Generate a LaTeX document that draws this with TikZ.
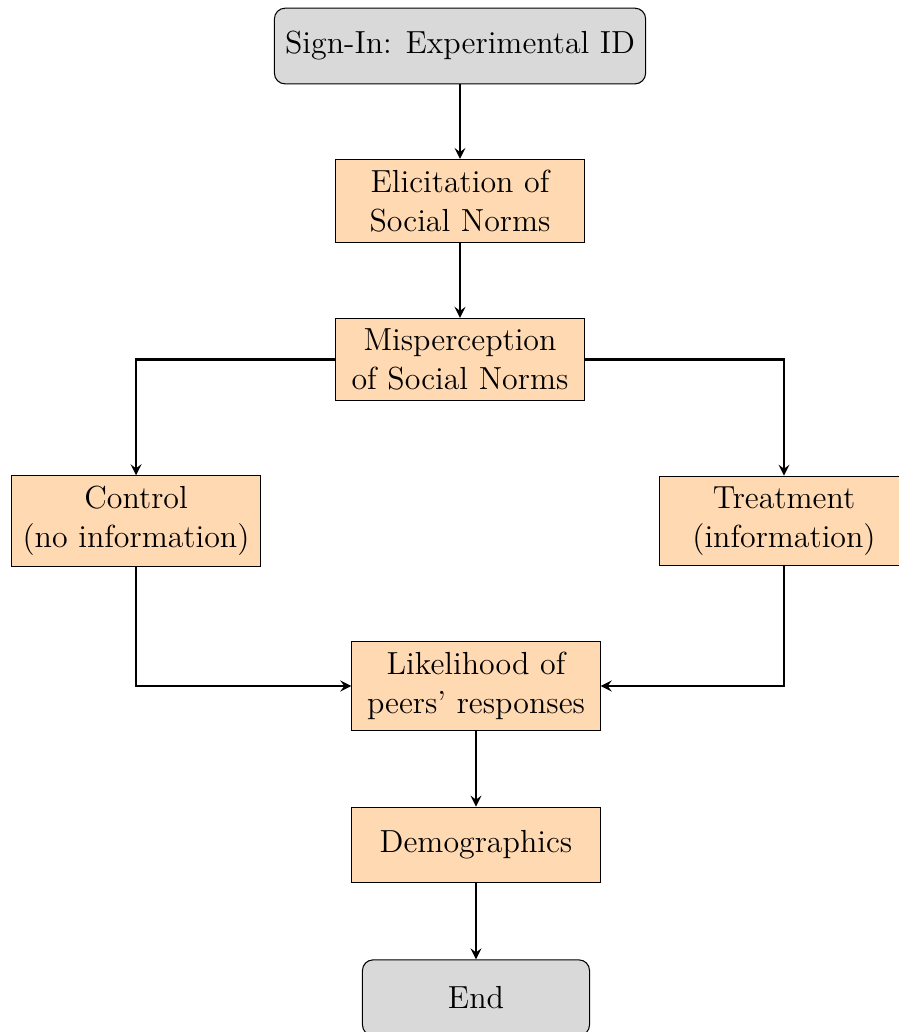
\documentclass[tikz,border=0pt,12pt]{standalone}
\usepackage{tikz}
\usetikzlibrary{arrows.meta,positioning}
\tikzset{
  startstop/.style={rectangle,rounded corners,minimum width=3cm,minimum height=1cm,align=center,draw=black,fill=gray!30},
  process/.style={rectangle,text width=3cm,minimum height=1cm,align=center,draw=black,fill=orange!30},
  arrow/.style={thick,->,>=stealth}
}
\begin{document}
\begin{tikzpicture}[x=1cm,y=1cm]
  \useasboundingbox (0,0) rectangle (11.876,-13.633);

  \node[startstop] (signin) at (6.077,-0.608) {Sign-In: Experimental ID};
  \node[process] (elicit) at (6.077,-2.655) {Elicitation of\\Social Norms};
  \node[process] (misper) at (6.077,-4.749) {Misperception\\of Social Norms};
  \node[process] (control) at (1.797,-6.882) {Control\\(no information)};
  \node[process] (treat) at (10.357,-6.882) {Treatment\\(information)};
  \node[process] (likely) at (6.288,-9.062) {Likelihood of\\peers' responses};
  \node[process] (demo) at (6.288,-11.162) {Demographics};
  \node[startstop] (stop) at (6.288,-13.18) {End};

  \draw[arrow] (signin) -- (elicit);
  \draw[arrow] (elicit) -- (misper);
  \draw[arrow] (misper.west) -| (control.north);
  \draw[arrow] (misper.east) -| (treat.north);
  \draw[arrow] (control.south) |- (likely.west);
  \draw[arrow] (treat.south) |- (likely.east);
  \draw[arrow] (likely) -- (demo);
  \draw[arrow] (demo) -- (stop);
\end{tikzpicture}
\end{document}
